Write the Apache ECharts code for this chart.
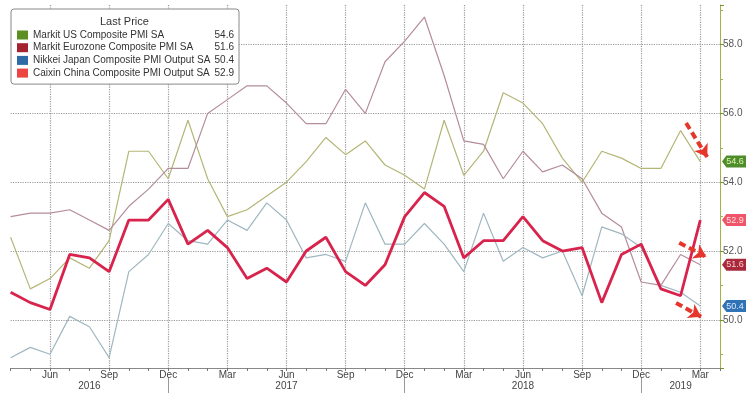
<!DOCTYPE html>
<html><head><meta charset="utf-8">
<script src="https://cdn.jsdelivr.net/npm/echarts@6/dist/echarts.min.js"></script>
<style>html,body{margin:0;padding:0;background:#fff}#c{width:746px;height:394px}</style>
</head><body><div id="c"></div>
<script>
const months = ['Apr 2016','May 2016','Jun 2016','Jul 2016','Aug 2016','Sep 2016','Oct 2016','Nov 2016','Dec 2016',
  'Jan 2017','Feb 2017','Mar 2017','Apr 2017','May 2017','Jun 2017','Jul 2017','Aug 2017','Sep 2017','Oct 2017','Nov 2017','Dec 2017',
  'Jan 2018','Feb 2018','Mar 2018','Apr 2018','May 2018','Jun 2018','Jul 2018','Aug 2018','Sep 2018','Oct 2018','Nov 2018','Dec 2018',
  'Jan 2019','Feb 2019','Mar 2019','Apr 2019'];
const usPMI = [52.4,50.9,51.2,51.8,51.5,52.3,54.9,54.9,54.1,55.8,54.1,53.0,53.2,53.6,54.0,54.6,55.3,54.8,55.2,54.5,54.2,53.8,55.8,54.2,54.9,56.6,56.3,55.7,54.7,54.0,54.9,54.7,54.4,54.4,55.5,54.6];
const ezPMI = [53.0,53.1,53.1,53.2,52.9,52.6,53.3,53.8,54.4,54.4,56.0,56.4,56.8,56.8,56.3,55.7,55.7,56.7,56.0,57.5,58.1,58.8,57.1,55.2,55.1,54.1,54.9,54.3,54.5,54.1,53.1,52.7,51.1,51.0,51.9,51.6];
const jpPMI = [48.9,49.2,49.0,50.1,49.8,48.9,51.4,51.9,52.8,52.3,52.2,52.9,52.6,53.4,52.9,51.8,51.9,51.7,53.4,52.2,52.2,52.8,52.2,51.4,53.1,51.7,52.1,51.8,52.0,50.7,52.7,52.5,52.1,51.0,50.8,50.4];
const cnPMI = [50.8,50.5,50.3,51.9,51.8,51.4,52.9,52.9,53.5,52.2,52.6,52.1,51.2,51.5,51.1,52.0,52.4,51.4,51.0,51.6,53.0,53.7,53.3,51.8,52.3,52.3,53.0,52.3,52.0,52.1,50.5,51.9,52.2,50.9,50.7,52.9];
const seriesNames = ['Markit US Composite PMI SA','Markit Eurozone Composite PMI SA','Nikkei Japan Composite PMI Output SA','Caixin China Composite PMI Output SA'];
const yearLabels = {4:'2016',14:'2017',26:'2018',34:'2019'};
const yearBreaks = [8,20,32];
const arrowNotes = [[[34.28,55.72],[35.35,54.73]],[[33.93,52.24],[35.3,51.83]],[[33.77,50.49],[35.04,50.09]]];

const chart = echarts.init(document.getElementById('c'), null, {renderer:'canvas'});
const FONT = 'Liberation Sans, Arial, sans-serif';
const lastVal = {};
const TAG = 'path://M0,6L5,0L27,0L27,12L5,12Z';
const LF = 10;

function mk(name, data, lineColor, legendColor, width, tagBg, tagText, z) {
  lastVal[name] = data[data.length-1].toFixed(1);
  return {
    name, type:'line', data, symbol:'none', z, silent:true,
    itemStyle:{color:legendColor}, lineStyle:{color:lineColor, width},
    emphasis:{disabled:true},
    markPoint:{
      symbol:TAG, symbolSize:[24,12], symbolKeepAspect:false, symbolOffset:[14,0], silent:true,
      itemStyle:{color:tagBg},
      label:{show:true, color:tagText, fontSize:9, fontFamily:FONT, offset:[1,0], formatter:p=>Number(p.value).toFixed(1)},
      data:[{coord:[months.length-1, data[data.length-1]], value:data[data.length-1]}]
    }
  };
}

const series = [
  mk(seriesNames[0], usPMI, '#b4b676', '#5b8f22', 1.2, '#4f8d2c', '#e0f5b0', 3),
  mk(seriesNames[1], ezPMI, '#b48c9c', '#a3232e', 1.2, '#a82a3a', '#f6cdd3', 3),
  mk(seriesNames[2], jpPMI, '#9fb7c1', '#2e6aa6', 1.2, '#2f72b5', '#dbeaff', 3),
  mk(seriesNames[3], cnPMI, '#d8234c', '#ec4343', 2.8, '#ef5468', '#ffe0e4', 4),
  {
    name:'notes', type:'line', data:[], xAxisIndex:2, yAxisIndex:0, silent:true,
    markLine:{
      silent:true, symbol:['none','arrow'], symbolSize:12, animation:false,
      label:{show:false},
      lineStyle:{color:'#e6352b', width:4, type:[7,4]},
      data: arrowNotes.map(a => [{coord:a[0]},{coord:a[1]}])
    }
  }
];

chart.setOption({
  animation:false,
  backgroundColor:'#fff',
  textStyle:{fontFamily:FONT},
  title:{text:'Last Price', left:100, top:16, padding:0, textStyle:{fontSize:11, fontWeight:'normal', color:'#333', fontFamily:FONT}},
  legend:{
    left:11, top:9, orient:'vertical', icon:'rect', itemWidth:11, itemHeight:9, itemGap:2.7,
    padding:[21,5,6,6], backgroundColor:'#fff', borderColor:'#888', borderWidth:1, borderRadius:3,
    selectedMode:false,
    data: seriesNames.map((n,i)=>({name:n, itemStyle:{color:['#5b8f22','#a3232e','#2e6aa6','#ec4343'][i]}})),
    formatter: n => '{n|'+n+'}{v|'+lastVal[n]+'}',
    textStyle:{fontSize:LF, color:'#333', rich:{n:{width:179, fontSize:LF, color:'#333'}, v:{width:22, align:'right', fontSize:LF, color:'#333'}}}
  },
  grid:{left:10.6, right:26, top:5, bottom:26, containLabel:false},
  xAxis:[
    {type:'category', data:months, boundaryGap:false, position:'bottom',
     axisLine:{onZero:false, lineStyle:{color:'#888'}},
     axisTick:{show:true, interval:0, length:3, lineStyle:{color:'#777'}},
     axisLabel:{interval:i=>(i-2)%3===0 && i<36, formatter:v=>v.split(' ')[0], color:'#444', fontSize:10, margin:2},
     splitLine:{show:true, interval:i=>(i-2)%3===0 && i<36, lineStyle:{type:'dotted', color:'#9a9a9a', width:1.2}}},
    {type:'category', data:months, boundaryGap:false, position:'bottom', offset:9,
     axisLine:{show:false, onZero:false},
     axisTick:{show:true, interval:i=>yearBreaks.includes(i), length:16, lineStyle:{color:'#999'}},
     axisLabel:{interval:i=>yearLabels[i]!==undefined, formatter:(v,i)=>yearLabels[i]||'', color:'#444', fontSize:10, margin:4},
     splitLine:{show:false}},
    {type:'value', min:0, max:36, show:false, axisLine:{onZero:false}}
  ],
  yAxis:{
    type:'value', position:'right', min:48.6, max:59.15, splitNumber:5, scale:false,
    axisLine:{show:true, onZero:false, lineStyle:{color:'#a6b04a'}},
    axisTick:{show:true, length:4, lineStyle:{color:'#6f9a2a'}},
    minorTick:{show:true, splitNumber:2, length:3, lineStyle:{color:'#a6b04a'}},
    axisLabel:{formatter:v=>v.toFixed(1), showMinLabel:false, showMaxLabel:false, color:'#555', fontSize:10, margin:3},
    splitLine:{show:true, showMinLine:false, showMaxLine:false, lineStyle:{type:'dotted', color:'#9a9a9a', width:1.2}}
  },
  series
});
</script>
</body></html>
